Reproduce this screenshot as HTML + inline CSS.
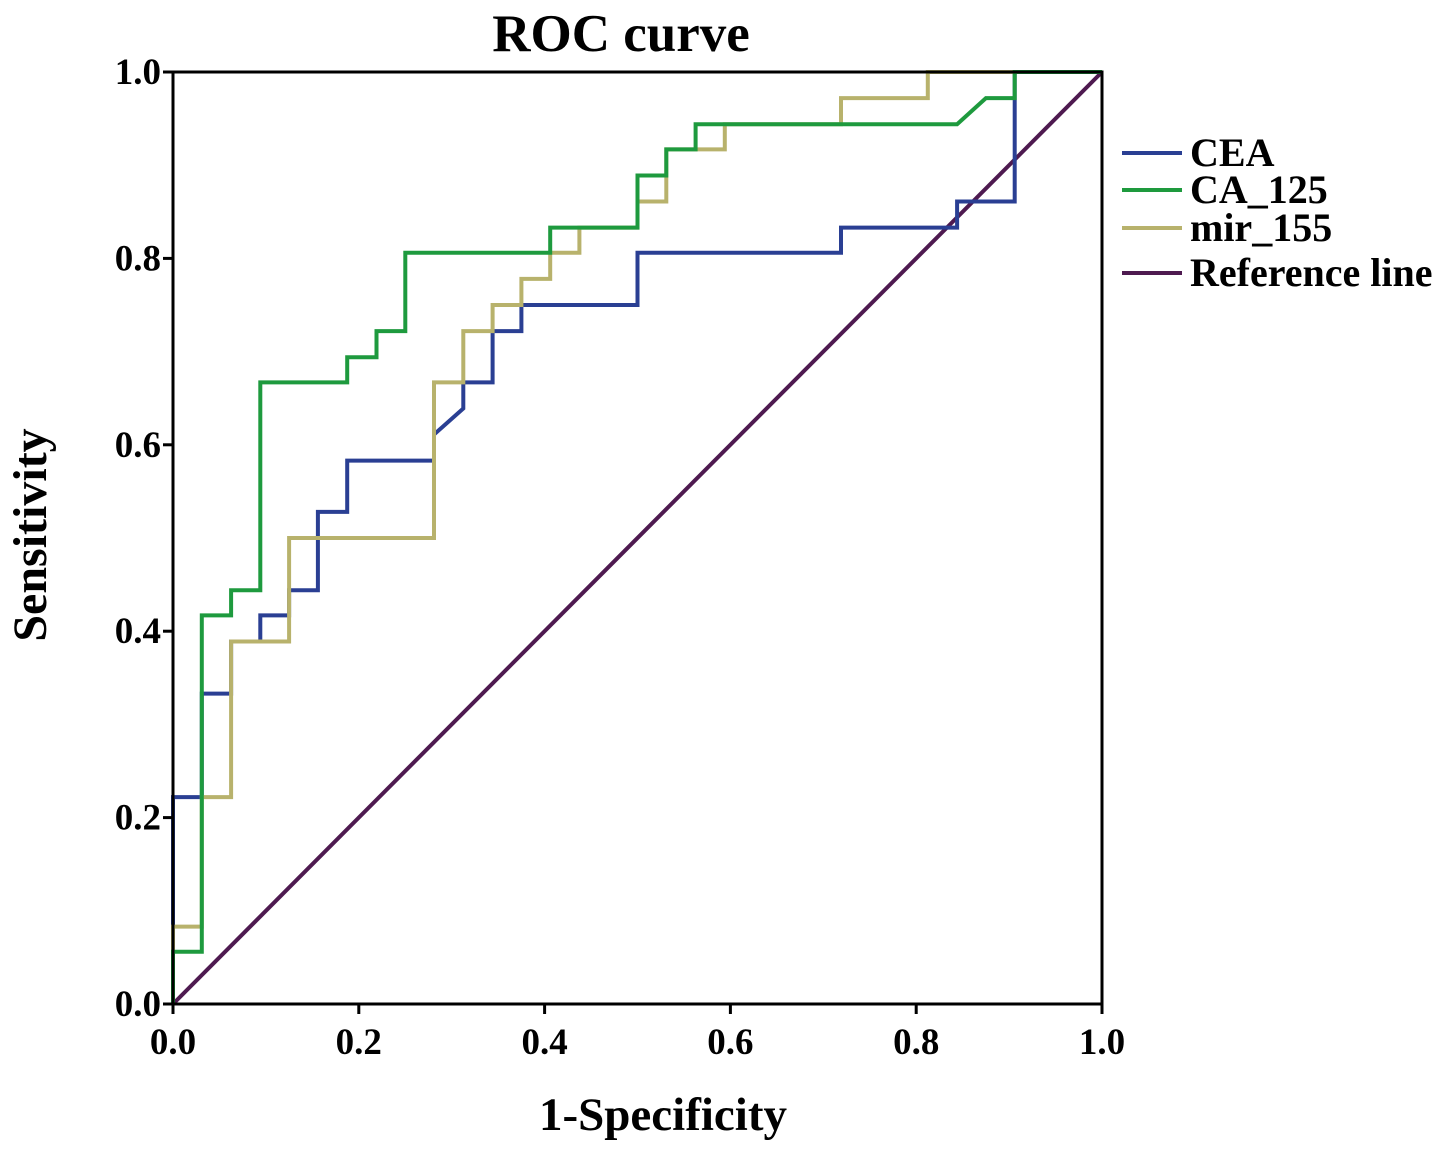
<!DOCTYPE html>
<html><head><meta charset="utf-8"><style>
html,body{margin:0;padding:0;background:#fff;}
svg{display:block;font-family:"Liberation Serif",serif;font-weight:bold;}
</style></head><body>
<svg id="chart" width="1441" height="1152" viewBox="0 0 1441 1152">
<text x="621" y="51" text-anchor="middle" font-size="53">ROC curve</text>
<g id="series"></g>
<g id="axes"></g>
<text x="663" y="1130" text-anchor="middle" font-size="47">1-Specificity</text>
<text transform="translate(46,535) rotate(-90)" text-anchor="middle" font-size="48">Sensitivity</text>
<g id="legend"></g>
</svg>
<script>
const xTicks=[0,0.2,0.4,0.6,0.8,1.0];
const yTicks=[0,0.2,0.4,0.6,0.8,1.0];
const seriesNames=["CEA","CA_125","mir_155","Reference line"];
const seriesColors=["#2a3f93","#1e9a3e","#b8b26c","#4e1a50"];
const ceaX=[0,0,0.031,0.031,0.0625,0.0625,0.094,0.094,0.125,0.125,0.156,0.156,0.1875,0.1875,0.281,0.281,0.3125,0.3125,0.344,0.344,0.375,0.375,0.5,0.5,0.719,0.719,0.844,0.844,0.906,0.906,1];
const ceaY=[0,0.222,0.222,0.333,0.333,0.389,0.389,0.417,0.417,0.444,0.444,0.528,0.528,0.583,0.583,0.611,0.639,0.667,0.667,0.722,0.722,0.75,0.75,0.806,0.806,0.833,0.833,0.861,0.861,1,1];
const caX=[0,0,0.031,0.031,0.0625,0.0625,0.094,0.094,0.1875,0.1875,0.219,0.219,0.25,0.25,0.406,0.406,0.5,0.5,0.531,0.531,0.5625,0.5625,0.844,0.875,0.906,0.906,1];
const caY=[0,0.056,0.056,0.417,0.417,0.444,0.444,0.667,0.667,0.694,0.694,0.722,0.722,0.806,0.806,0.833,0.833,0.889,0.889,0.917,0.917,0.944,0.944,0.972,0.972,1,1];
const mirX=[0,0,0.031,0.031,0.0625,0.0625,0.125,0.125,0.281,0.281,0.3125,0.3125,0.344,0.344,0.375,0.375,0.406,0.406,0.4375,0.4375,0.5,0.5,0.531,0.531,0.594,0.594,0.719,0.719,0.8125,0.8125,1];
const mirY=[0,0.083,0.083,0.222,0.222,0.389,0.389,0.5,0.5,0.667,0.667,0.722,0.722,0.75,0.75,0.778,0.778,0.806,0.806,0.833,0.833,0.861,0.861,0.917,0.917,0.944,0.944,0.972,0.972,1,1];
const refX=[0,1];
const refY=[0,1];

const NS="http://www.w3.org/2000/svg";
const X0=173,X1=1102,Y0=1004,Y1=72;
const sx=v=>X0+v*(X1-X0);
const sy=v=>Y0-v*(Y0-Y1);
function mk(tag,attrs,parent){const e=document.createElementNS(NS,tag);for(const k in attrs)e.setAttribute(k,attrs[k]);parent.appendChild(e);return e;}
const sg=document.getElementById('series');
const all=[[ceaX,ceaY],[caX,caY],[mirX,mirY],[refX,refY]];
const order=[3,0,2,1];
order.forEach(i=>{
  const [xs,ys]=all[i];
  const pts=xs.map((x,j)=>sx(x).toFixed(1)+","+sy(ys[j]).toFixed(1)).join(" ");
  const p=mk('polyline',{points:pts,fill:'none',stroke:seriesColors[i],'stroke-width':4},sg);
  
  
});
const ag=document.getElementById('axes');
const frame=mk('rect',{x:X0,y:Y1,width:X1-X0,height:Y0-Y1,fill:'none',stroke:'#000','stroke-width':3},ag);


xTicks.forEach(t=>{
  const l=mk('line',{x1:sx(t),x2:sx(t),y1:Y0,y2:Y0+10,stroke:'#000','stroke-width':3},ag);
  
  
  const tx=mk('text',{x:sx(t),y:Y0+50,'text-anchor':'middle','font-size':37},ag);
  tx.textContent=t.toFixed(1);
  
  
});
yTicks.forEach(t=>{
  const l=mk('line',{x1:X0-10,x2:X0,y1:sy(t),y2:sy(t),stroke:'#000','stroke-width':3},ag);
  
  
  const tx=mk('text',{x:X0-12,y:sy(t)+12,'text-anchor':'end','font-size':37},ag);
  tx.textContent=t.toFixed(1);
  
  
});
const lg=document.getElementById('legend');
const ly=[153,190,228,273];
seriesNames.forEach((n,i)=>{
  const l=mk('line',{x1:1122,x2:1182,y1:ly[i],y2:ly[i],stroke:seriesColors[i],'stroke-width':4},lg);
  
  
  const t=mk('text',{x:1190,y:ly[i]+13,'font-size':40},lg);
  t.textContent=n;
  
  
});
</script>
</body></html>
